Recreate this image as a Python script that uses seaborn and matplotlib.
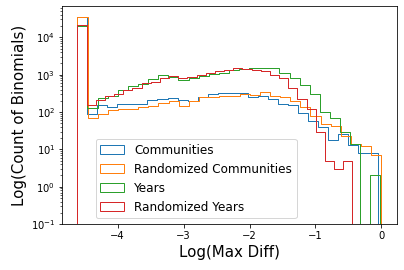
import numpy as np
import pandas as pd
import matplotlib
matplotlib.use("Agg")
import matplotlib.pyplot as plt
from matplotlib.patches import Patch
import seaborn as sns

# log10(max diff) range of each histogram (30 bins each)
lo = -4.61
hi_comm = -0.055
hi_rcomm = 0.0
hi_years = -0.015
hi_ryears = -0.44

# bin counts
comm = [34700, 87, 152, 135, 162, 162, 162, 211, 224, 234,
        207, 195, 249, 300, 325, 325, 325, 254, 265, 220,
        162, 152, 93, 57, 39, 17.5, 26, 13, 8, 8]
rcomm = [35000, 68, 87, 114, 121, 121, 134, 146, 172, 196,
         143, 196, 250, 250, 265, 265, 300, 282, 340, 265,
         254, 195, 135, 79, 48, 42, 23, 14, 12, 7]
years = [20300, 126, 234, 262, 379, 501, 556, 757, 970, 873,
         726, 811, 917, 1038, 1118, 1345, 1430, 1493, 1493, 1493,
         1096, 806, 533, 305, 103, 68, 29, 14, 0, 2]
ryears = [21600, 155, 211, 265, 311, 391, 434, 592, 641, 836,
          929, 805, 857, 1000, 1096, 1241, 1320, 1494, 1403, 1320,
          1241, 970, 805, 434, 220, 119, 30, 5, 3, 5]

labels = ["Communities", "Randomized Communities", "Years", "Randomized Years"]
colors = ["#1f77b4", "#ff7f0e", "#2ca02c", "#d62728"]
series = [(comm, hi_comm), (rcomm, hi_rcomm), (years, hi_years), (ryears, hi_ryears)]

fig = plt.figure(figsize=(404 / 72, 270 / 72), dpi=72)
ax = fig.add_axes([0.154, 0.170, 0.829, 0.807])
ax.set_yscale("log")

for (counts, hi), col in zip(series, colors):
    edges = np.linspace(lo, hi, len(counts) + 1)
    w = edges[1] - edges[0]
    # one empty bin on each side so the outline drops to the baseline
    edges = np.concatenate([[edges[0] - w], edges, [edges[-1] + w]])
    df = pd.DataFrame({
        "x": (edges[:-1] + edges[1:]) / 2,
        "n": np.concatenate([[0], counts, [0]]),
    })
    sns.histplot(data=df, x="x", weights="n", bins=edges.tolist(), element="step",
                 fill=False, color=col, linewidth=1, ax=ax)

ax.set_xlim(-4.84, 0.238)
ax.set_ylim(0.1, 6.8e4)
ax.set_xticks([-4, -3, -2, -1, 0])
ax.tick_params(labelsize=10)
ax.set_xlabel("Log(Max Diff)", fontsize=15)
ax.set_ylabel("Log(Count of Binomials)", fontsize=15)

handles = [Patch(facecolor="none", edgecolor=c, linewidth=1) for c in colors]
ax.legend(handles, labels, fontsize=12, loc="lower left",
          bbox_to_anchor=(0.0998, 0.026), borderaxespad=0)

fig.savefig("out.png", dpi=72)
